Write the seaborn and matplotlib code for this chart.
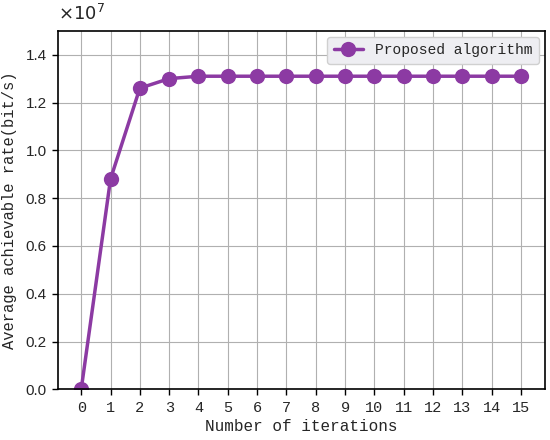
import pandas as pd
import matplotlib
matplotlib.use("Agg")
import matplotlib.pyplot as plt
import seaborn as sns

# data
iterations = list(range(16))
avg_rate = [0.0, 8.8e6, 1.26e7, 1.30e7, 1.31e7, 1.31e7, 1.31e7, 1.31e7,
            1.31e7, 1.31e7, 1.31e7, 1.31e7, 1.31e7, 1.31e7, 1.31e7, 1.31e7]
x_ticks = list(range(16))
y_ticks = [0.0, 0.2e7, 0.4e7, 0.6e7, 0.8e7, 1.0e7, 1.2e7, 1.4e7]

df = pd.DataFrame({'Iteration': iterations, 'Rate': avg_rate})

sns.set_style("whitegrid", {'axes.edgecolor': 'black', 'grid.color': '#b0b0b0',
                            'xtick.bottom': True, 'ytick.left': True})
mono = 'Liberation Mono'
sans = 'Liberation Sans'

fig, ax = plt.subplots(figsize=(5.5, 4.4), dpi=100)
sns.lineplot(x='Iteration', y='Rate', data=df, color='#8c3aa3', marker='o',
             markersize=11, linewidth=2.5, markeredgewidth=0,
             label='Proposed algorithm', ax=ax)

ax.set_xlim(-0.8, 15.8)
ax.set_ylim(0, 1.5e7)
ax.set_xticks(x_ticks)
ax.set_yticks(y_ticks)
ax.set_xticklabels([str(t) for t in x_ticks], fontfamily=mono, fontsize=11)
ax.set_yticklabels([f'{t/1e7:.1f}' for t in y_ticks], fontfamily=sans, fontsize=11)
ax.text(0, 1.02, r'$\times10^{7}$', transform=ax.transAxes, fontsize=13,
        fontfamily=sans, ha='left', va='bottom')
ax.set_xlabel('Number of iterations', fontfamily=mono, fontsize=11.5, labelpad=3)
ax.set_ylabel('Average achievable rate(bit/s)', fontfamily=mono, fontsize=11.2,
              labelpad=6)
ax.tick_params(axis='both', length=4, width=1, color='black', pad=4)
for s in ax.spines.values():
    s.set_color('black')
    s.set_linewidth(1.2)

ax.legend(loc='upper right', prop={'family': mono, 'size': 10.5},
          facecolor='#eeeef2', edgecolor='#d0d0d0', framealpha=1,
          fancybox=True, handlelength=2.0, borderpad=0.45,
          borderaxespad=0.4)

plt.subplots_adjust(left=0.105, right=0.99, top=0.93, bottom=0.115)
plt.savefig('out.png')
